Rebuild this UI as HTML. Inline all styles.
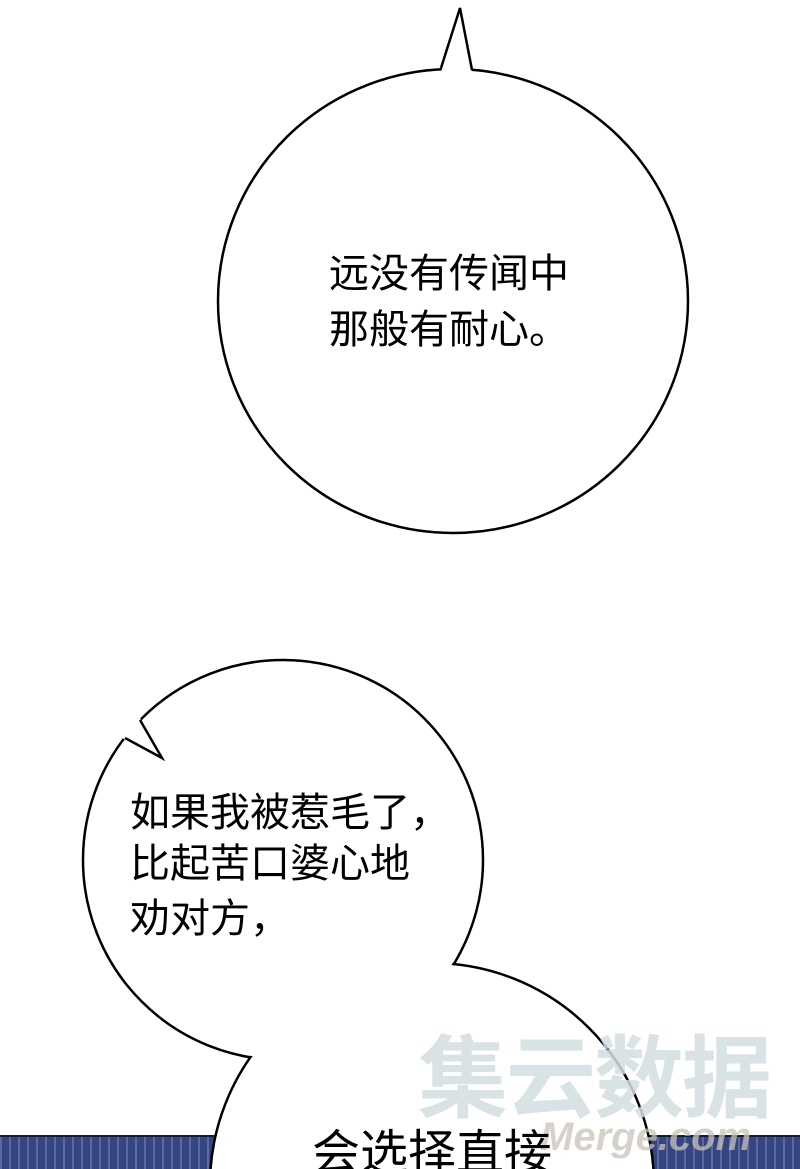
<!DOCTYPE html>
<html><head><meta charset="utf-8"><style>
html,body{margin:0;padding:0;background:#fff;}
body{width:800px;height:1169px;overflow:hidden;position:relative;}
svg{position:absolute;left:0;top:0;}
</style></head><body>
<svg width="800" height="1169" viewBox="0 0 800 1169" xmlns="http://www.w3.org/2000/svg">
<defs>
<pattern id="st" width="9" height="40" patternUnits="userSpaceOnUse">
<rect width="9" height="40" fill="#34457f"/>
<rect x="0" width="2" height="40" fill="#5a6aa0"/>
</pattern>
</defs>
<rect x="0" y="1136" width="800" height="33" fill="url(#st)"/>
<line x1="0" y1="1136" x2="800" y2="1136" stroke="#111a3a" stroke-width="2"/>
<!-- top bubble -->
<ellipse cx="453" cy="301" rx="235" ry="232" fill="#fff" stroke="#000" stroke-width="2.5"/>
<polygon points="441,72 460,8 472,72" fill="#fff"/>
<polyline points="441,68 460,8 472,70" fill="none" stroke="#000" stroke-width="2.5"/>
<!-- second bubble -->
<circle cx="283" cy="860" r="200" fill="#fff" stroke="#000" stroke-width="2.5"/>
<circle cx="432" cy="1185" r="222" fill="#fff" stroke="#000" stroke-width="2.5"/>
<circle cx="283" cy="860" r="198.5" fill="#fff"/>
<circle cx="432" cy="1185" r="220.5" fill="#fff"/>
<polygon points="140,718 162,758 125,740 112,730 130,712" fill="#fff"/>
<polyline points="140,720 162,758 125,738" fill="none" stroke="#000" stroke-width="2.5" stroke-linejoin="miter"/>
<text x="418" y="1110" font-family="Liberation Sans, Noto Sans CJK SC, sans-serif" font-size="90" font-weight="bold" fill="#d3dee1" opacity="0.85" letter-spacing="-2">集云数据</text>
<text x="540" y="1150" font-family="Liberation Sans, sans-serif" font-size="40" font-weight="bold" font-style="italic" fill="#c9c3b8" opacity="0.75">Merge.com</text>
<g font-family="Liberation Sans, Noto Sans CJK SC, sans-serif" font-size="40" fill="#000">
<text x="329" y="287">远没有传闻中</text>
<text x="329" y="343">那般有耐心。</text>
<text x="130" y="826">如果我被惹毛了，</text>
<text x="130" y="877">比起苦口婆心地</text>
<text x="130" y="932">劝对方，</text>
<text x="312" y="1169" font-size="48">会选择直接</text>
</g>
</svg>
</body></html>
